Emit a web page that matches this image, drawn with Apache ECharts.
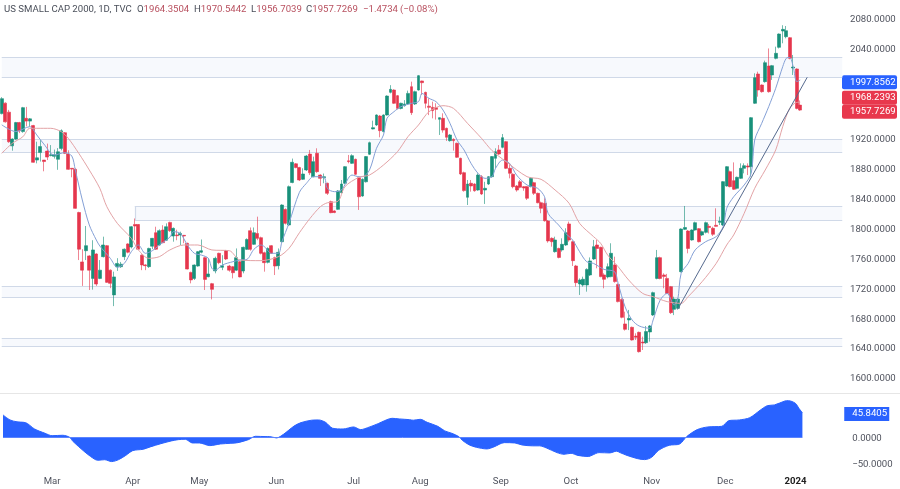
<!DOCTYPE html>
<html><head><meta charset="utf-8">
<style>html,body{margin:0;padding:0;background:#fff}#c{width:900px;height:489px}</style>
<script src="https://cdn.jsdelivr.net/npm/echarts@6/dist/echarts.min.js"></script>
</head><body><div id="c"></div>
<script>
const slotCount = 241;
const monthTicks = {14:'Mar',37:'Apr',56:'May',78:'Jun',100:'Jul',119:'Aug',142:'Sep',162:'Oct',185:'Nov',206:'Dec',226:'2024'};
const priceTicks = [1600,1640,1680,1720,1760,1800,1840,1880,1920,2040,2080];
const oscTicks = [0,-50];
// open, close, low, high
const candles = [
[1953,1973,1952,1975],[1967,1942,1941,1968],[1955,1915.5,1914,1958],[1910,1919,1903.5,1920],[1919,1941,1918,1942],[1941,1930,1927,1942],[1929,1961,1927.5,1962],[1946.7,1943,1936,1962],[1943,1946,1935.5,1947],[1937,1888,1887.5,1938],
[1891,1894,1886.6,1915.5],[1901,1909,1889,1918],[1891,1889,1876,1891],[1903,1895,1891,1913],[1897,1898,1896,1911],[1896,1898,1893,1905],[1892,1902,1878,1907],[1906.6,1930,1904,1932],[1927.5,1900,1899,1928.4],[1899,1878.6,1878,1904],
[1880,1879,1868,1880],[1878.6,1826.5,1826,1880],[1821,1772,1757.5,1822],[1755,1744,1723,1772],[1770,1776.7,1757.5,1803],[1763,1744,1717.5,1764],[1733,1771,1718,1784],[1765.6,1725.5,1723,1766.5],[1733,1744,1732,1757.5],[1762,1777.6,1761,1788.7],
[1776.7,1727.7,1727,1777.6],[1744,1726.4,1720,1745],[1711,1735,1696,1742],[1748.6,1753,1743,1760],[1748.6,1752,1747,1755],[1762,1772,1757.5,1773],[1779,1768,1766.5,1780],[1775,1802,1773,1803],[1805,1803,1784,1813],[1805,1772,1771.7,1805.6],
[1764,1751,1744,1765],[1751,1750,1744,1752],[1748.7,1773,1747,1774],[1776,1786.5,1772,1787],[1794,1772,1771,1802],[1777.6,1796.7,1776.7,1798.5],[1797.6,1780.7,1780,1804],[1784,1802,1783,1806.5],[1807.8,1796.7,1795,1808.7],[1789.6,1799.8,1782,1801],
[1791,1790,1784,1798],[1791,1793,1777.6,1795.4],[1790.5,1789.6,1780,1791],[1779.8,1745.5,1745,1780.7],[1741,1731,1726.4,1742],[1733,1750.9,1730.9,1751.7],[1749.5,1768.7,1748.6,1769.6],[1768,1770,1766.5,1785],[1760.7,1731.7,1717.5,1762],[1735.3,1738.9,1734.4,1760],
[1726,1718.4,1705,1727],[1743,1759.8,1739.8,1762],[1766.5,1754,1752,1767.3],[1747.8,1750,1744,1764],[1770,1758.9,1757.5,1771],[1749.5,1744,1742,1751],[1748.6,1740.6,1733,1749.5],[1744,1760.7,1743,1773],[1755.3,1735,1734.4,1756],[1742.9,1774.5,1739.8,1775.4],
[1771.8,1785,1770.9,1786.5],[1796.7,1771.8,1770,1801],[1778.5,1794,1777.6,1801],[1793,1786.5,1784,1815.4],[1787.4,1766.5,1765,1788.7],[1767.3,1754,1742,1768.7],[1754.4,1773,1753,1774.5],[1776.7,1766.5,1765.6,1777.6],[1760.7,1749.5,1737.5,1762],[1750,1767.8,1745,1773],
[1782,1831,1781,1832],[1825,1806.5,1805,1826.5],[1804.3,1855.5,1803,1857],[1861,1888,1860,1893],[1886,1881,1880,1887],[1881,1864.4,1863,1882],[1865.3,1872.4,1864.4,1880],[1877.8,1896.4,1876.4,1897.8],[1899,1874,1871,1904.5],[1868.8,1888.9,1868,1895.6],
[1900,1875.5,1874,1906.7],[1871,1866.6,1856.4,1872],[1867.5,1868.8,1860,1873],[1860,1846.6,1844.4,1860.8],[1835.5,1820.8,1820,1836.8],[1823,1821,1820,1824],[1825.2,1849.7,1824.4,1851],[1847.5,1859,1846.6,1864.4],[1860,1882.2,1859,1883],[1890,1888.9,1886.6,1897.8],
[1886.6,1896.9,1885.8,1898.7],[1892,1872,1871,1892.9],[1867.5,1842,1824.4,1868.8],[1843,1865.3,1842,1866.6],[1862,1895.6,1861,1896.4],[1898.7,1914.2,1897.8,1915.6],[1932.5,1934.3,1932,1943.6],[1937.8,1951.2,1936.5,1952],[1949.8,1930.3,1921.4,1951.2],[1929,1951.2,1928,1952],
[1951.2,1976.5,1950.3,1977.4],[1981.4,1985.4,1980,1991],[1984.5,1966.8,1965.9,1985.4],[1977,1960,1958.7,1977.9],[1960,1966.8,1958.7,1967.6],[1963.6,1965.9,1962.3,1971],[1965.9,1980,1964.5,1983.7],[1989,1954.3,1951.2,1995.7],[1965.9,1982.3,1964.5,1983.7],[1984.5,2003.7,1983.7,2004.6],
[1996.6,1994.3,1977.9,1997],[1981.4,1966.8,1960,1982.3],[1963,1961.4,1951,1973.4],[1961.4,1957,1946.7,1969],[1961,1958.7,1945,1966.8],[1945.4,1947.6,1924.5,1948],[1946.7,1931,1927.6,1953.4],[1933.4,1921.4,1916.5,1934.3],[1916.9,1924.5,1915.6,1925.8],[1918.7,1916.9,1903.6,1920],
[1913.4,1894.7,1893.8,1914.2],[1893.3,1872.4,1871,1894.2],[1874.2,1850.2,1848.8,1875.5],[1841.3,1859,1831,1864.4],[1860,1856.4,1848.8,1864.4],[1859,1850,1848.8,1860],[1851,1871,1850,1873.3],[1868.8,1845.7,1844.4,1871],[1851,1853.3,1832.4,1862],[1859,1868.8,1857.7,1869.7],
[1868.8,1895.6,1867.5,1896.4],[1893.3,1902.2,1880,1906.7],[1904.5,1899,1897.8,1911],[1908,1920.9,1906.7,1925.8],[1915.6,1880,1879,1916.5],[1880,1873.3,1866.6,1886.6],[1872,1855.5,1853.3,1873.3],[1856.4,1851,1848.8,1857.7],[1862,1854.6,1853.3,1864.4],[1855.5,1853.7,1850,1856.4],
[1855.5,1840,1837.7,1856.4],[1855.5,1866.6,1854.6,1868],[1860.8,1846.6,1844.4,1862],[1846.6,1834,1833.3,1847.5],[1834,1826.6,1820,1835.5],[1833.3,1810,1808.8,1840],[1809.7,1783,1780.7,1811],[1786.5,1782,1775.4,1787.8],[1768.7,1784.3,1767.4,1788.7],[1773,1761,1759.8,1774],
[1771,1778.5,1768.7,1786.5],[1777.6,1794,1776.3,1799.9],[1805.7,1784.3,1782,1808.8],[1782,1756.7,1749.6,1783.4],[1749.6,1727.3,1722,1751],[1725.6,1730.9,1710.9,1733],[1724.2,1731.8,1722,1735.3],[1724.2,1745,1715.3,1746.5],[1737.6,1756.3,1736.2,1761],[1759,1775.4,1757.6,1784.3],
[1777.6,1773,1746.5,1784.3],[1774.5,1735.4,1734.5,1775.4],[1737.6,1731.8,1719.8,1739.8],[1735,1748.7,1733,1753],[1735.4,1766.5,1734.5,1779.9],[1751,1728.7,1727.3,1762],[1725,1702,1701,1726.4],[1705,1681,1679.7,1706.4],[1672.2,1665,1663.3,1688.6],[1677.5,1679.7,1664,1690.9],
[1667.7,1650.8,1650,1668.6],[1656,1654.4,1650.8,1659.7],[1661,1635.2,1634,1662],[1648,1646.8,1637.4,1655.3],[1647.2,1662,1645.5,1669.5],[1661.5,1669.5,1648.6,1670.8],[1684.2,1714,1682.8,1715.3],[1733,1760.7,1731.8,1771],[1760.7,1733,1731.8,1762],[1737.6,1735.4,1719.8,1739.8],
[1733,1713,1712,1739],[1722,1687.3,1685.5,1722.9],[1691.7,1705.5,1684,1708.6],[1693,1705.5,1691.7,1706.4],[1742,1799,1741,1799.9],[1798.5,1801,1797.6,1829.7],[1796.3,1773,1766.5,1797.6],[1784.3,1797.6,1783.4,1798.5],[1797.6,1807.4,1796.7,1808.8],[1799.4,1782,1781,1800.3],
[1791,1795.4,1789.6,1796.8],[1794.5,1807.4,1793,1808.8],[1802.5,1801,1793,1805.7],[1799.9,1791.9,1789.6,1802],[1803.9,1802.5,1802,1826.6],[1807.9,1809.2,1804.3,1815.4],[1804.3,1862.2,1803,1863],[1856.4,1882.2,1855.5,1883],[1875.5,1855.5,1854.6,1876.9],[1863.5,1852,1851,1887.9],
[1853.3,1868,1852,1868.9],[1866.6,1880,1865.7,1886.6],[1880,1883.5,1873.3,1886.6],[1883.1,1881.7,1871,1886.6],[1882.2,1947.6,1868.9,1948.5],[1966.8,2001,1965.9,2006.8],[2005.9,1984.5,1975.6,2009],[1991.2,1982.3,1981,1992],[1995.7,2021,1994.3,2023.7],[2016.6,1982.3,1981,2040],
[2004.6,2017,1998,2018],[2026.8,2033.5,2025.5,2042.4],[2041.5,2059.3,2040,2060],[2063.3,2065.5,2046.9,2071],[2055.7,2063.7,2053.5,2070],[2054.4,2026.8,2025.5,2055.3],[2013.9,2015.2,2004.6,2031.3],[2012.6,1960,1958.7,2013.5],[1964.3504,1957.7269,1956.7039,1970.5442]
];
// [bar index, value]
const fastMA = [[0,1938],[4,1929],[8,1935.6],[10,1924.5],[12,1912.5],[15,1897.8],[18,1900.9],[20,1896.4],[21,1877.7],[23,1837.7],[25,1804.3],[27,1784.3],[28,1776.3],[31,1759.8],[33,1747.8],[35,1753],[37,1768.7],[39,1777.6],[41,1766.5],[43,1770],[45,1777.6],[48,1788],[49,1795.4],[51,1793],[53,1777.6],[55,1766.5],[57,1764.2],[59,1759.8],[60,1746.4],[61,1744],[63,1750.9],[66,1755.3],[68,1757.5],[70,1758.4],[72,1771.8],[74,1777.6],[75,1775.4],[77,1766.5],[79,1766.5],[80,1782],[82,1806.5],[85,1848],[87,1860],[89,1868.8],[92,1868],[93,1853],[95,1848.8],[97,1851],[100,1871],[102,1868.8],[103,1868.8],[105,1877.7],[107,1906.7],[109,1924.5],[110,1946.7],[112,1955.6],[114,1962.3],[117,1966.8],[119,1969],[120,1980],[122,1973.4],[124,1969],[126,1957.8],[128,1940],[130,1917.8],[132,1904.5],[134,1886.6],[136,1873.3],[138,1866.6],[140,1868.8],[141,1880],[143,1891],[145,1886.6],[147,1871],[150,1857.7],[153,1853.3],[155,1842],[156,1819.9],[159,1804.3],[161,1793.2],[163,1784.3],[165,1768.7],[167,1755.4],[169,1753],[172,1745],[175,1742],[176,1726.4],[178,1695],[180,1677.5],[182,1669.5],[185,1666.4],[186,1677.5],[188,1704],[190,1713],[192,1697.5],[193,1704],[194,1739.8],[196,1753],[198,1771],[201,1782],[204,1788.8],[206,1802],[207,1826.6],[209,1842],[212,1857.7],[214,1873.3],[215,1917.8],[217,1940],[219,1962.3],[221,1986.8],[223,2015.7],[224,2026.8],[225,2028],[226,2015.7],[227,1995.7],[228,1997.8562]];
const slowMA = [[0,1900],[3,1913.3],[6,1922],[8,1933.4],[10,1933.4],[14,1933.4],[17,1928.9],[19,1920],[22,1900],[25,1877.7],[28,1853.3],[30,1828.8],[33,1806.5],[37,1786.5],[39,1771],[42,1759.8],[45,1762],[48,1771],[52,1777.6],[56,1777.6],[60,1771],[65,1770],[68,1757.6],[74,1756.7],[79,1762],[82,1773],[85,1794],[88,1813],[91,1828.8],[93,1834],[96,1836],[98,1855.5],[102,1868],[105,1871],[109,1884.4],[113,1902.2],[116,1922.3],[119,1937.8],[122,1955.6],[126,1963.6],[129,1960],[133,1940],[137,1920],[140,1903.6],[144,1888.9],[150,1868.8],[154,1865.3],[158,1851],[162,1833.3],[165,1806.5],[169,1788.7],[171,1779.9],[173,1764.3],[176,1748.7],[179,1730.9],[183,1713],[186,1708.6],[190,1702],[194,1699.7],[196,1708.6],[200,1728.7],[204,1753],[207,1777.6],[209,1791],[212,1819.9],[215,1853.3],[218,1877.7],[221,1904.5],[223,1935.6],[225,1960],[227,1968],[228,1968.2393]];
const oscillator = [[0,42],[2,32.5],[4,29],[6,28],[7,25.6],[9,15.6],[12,7.5],[14,3],[17,3.8],[19,0],[20,-8],[23,-25.6],[25,-36],[27,-43],[29,-42],[31,-45.5],[33,-41.8],[35,-34],[37,-25],[40,-22.4],[42,-18],[45,-12],[48,-6.8],[50,-4.4],[52,-3.7],[54,-10.6],[56,-10.6],[59,-15.6],[62,-12.5],[65,-11.2],[67,-10],[70,-4.4],[72,1.9],[75,1.3],[76,1.3],[78,-1.2],[80,5.6],[83,21],[85,27.5],[88,32],[90,32.5],[92,28],[94,17],[97,15.6],[100,19.4],[102,14.4],[104,18],[107,25.6],[108,28.7],[111,35.6],[113,34.4],[116,33],[117,32],[119,33.7],[121,28],[124,20.6],[126,12],[128,7.5],[130,1.3],[131,-5.6],[133,-14.3],[135,-18.7],[138,-21.8],[140,-18],[143,-10],[146,-10.6],[148,-14.3],[151,-16],[153,-16],[155,-20],[158,-28.7],[160,-31.8],[162,-30],[164,-34],[167,-36],[168,-33.6],[170,-28.7],[173,-29.3],[175,-26],[176,-28.7],[178,-34],[181,-40],[183,-41.8],[185,-37.4],[187,-24.3],[190,-15],[193,-12.5],[195,1.3],[198,14.4],[201,19.4],[205,20.6],[207,31.2],[210,32.5],[213,36.8],[216,51],[218,59.3],[220,60.6],[223,68],[224,68.6],[226,63.7],[227,54.3],[228,45.8405]];
// upper price, lower price, first bar
const zoneEdges = [[2028.6,2001.5,0],[1918.7,1901.3,0],[1829.7,1810.6,38],[1722.9,1708.2,0],[1653,1641.9,0]];
const trendStart = [193,1691.7], trendEnd = [230,2001.5];
const zoneEndBar = 240;
// tag slot on the price scale -> shown text, colour class
const priceTags = [[1995,'1997.8562','blue'],[1974.3,'1968.2393','red'],[1955.6,'1957.7269','red']];
const oscTagSlot = 43.6, oscTagText = '45.8405';

const FONT = 'Roboto';
const FS = 9.6;
const TXT = '#50535e';
const categories = Array.from({length:slotCount},(_,i)=>monthTicks[i]||'');
const zoneAreas = zoneEdges.map(z=>[{coord:[z[2],z[0]]},{coord:[zoneEndBar,z[1]]}]);
const zoneLines = [];
zoneEdges.forEach(z=>{
  zoneLines.push([{coord:[z[2],z[0]]},{coord:[zoneEndBar,z[0]]}]);
  zoneLines.push([{coord:[z[2],z[1]]},{coord:[zoneEndBar,z[1]]}]);
  if(z[2]>0) zoneLines.push([{coord:[z[2],z[0]]},{coord:[z[2],z[1]]}]);
});
const tagBox = c=>({backgroundColor:c,color:'#fff',width:47,height:14,lineHeight:14,padding:[0,0,0,8],borderRadius:2,fontSize:FS,fontFamily:FONT});
const headerParts = [
 {left:4,text:'{d|US SMALL CAP 2000, 1D, TVC}'},
 {left:137,text:'{d|O}{v|1964.3504}'},
 {left:194,text:'{d|H}{v|1970.5442}'},
 {left:251,text:'{d|L}{v|1956.7039}'},
 {left:306,text:'{d|C}{v|1957.7269}'},
 {left:363,text:'{v|−1.4734}'},
 {left:400,text:'{v|(−0.08%)}'}
];
const chart = echarts.init(document.getElementById('c'),null,{renderer:'canvas'});
chart.setOption({
 animation:false,
 backgroundColor:'#ffffff',
 textStyle:{fontFamily:FONT},
 title:headerParts.map(h=>({left:h.left,top:5,text:h.text,padding:0,textStyle:{fontWeight:'normal',rich:{
   d:{color:'#4a4f5a',fontSize:FS,fontWeight:'normal',fontFamily:FONT},
   v:{color:'#b8505f',fontSize:FS,fontWeight:'normal',fontFamily:FONT}}}})),
 grid:[
  {left:-2.56,right:53.76,top:0,height:393,containLabel:false},
  {left:-2.56,right:53.76,top:393,height:80,containLabel:false}
 ],
 xAxis:[
  {type:'category',gridIndex:0,data:categories,show:false},
  {type:'category',gridIndex:1,data:categories,axisLine:{show:false},axisTick:{show:false},splitLine:{show:false},
   axisLabel:{interval:0,margin:4,hideOverlap:false,color:TXT,fontSize:FS,fontFamily:FONT,
     formatter:v=>v==='2024'?'{b|2024}':v,
     rich:{b:{fontWeight:'bold',color:'#222',fontSize:FS,fontFamily:FONT}}}}
 ],
 yAxis:[
  {type:'value',gridIndex:0,position:'right',min:1580,max:2104.7,splitLine:{show:false},axisLine:{show:false},axisTick:{show:false},
   axisLabel:{customValues:priceTags.map(t=>t[0]).concat(priceTicks),align:'left',margin:-2,hideOverlap:false,showMinLabel:true,showMaxLabel:true,color:TXT,
     formatter:v=>{const t=priceTags.find(p=>p[0]===v);
       return t?`{${t[2]}|${t[1]}}`:`{n|${v.toFixed(4)}}`;},
     rich:{n:{padding:[2,0,0,8],color:TXT,fontSize:FS,fontFamily:FONT},blue:tagBox('#2962ff'),red:tagBox('#e8384d')}}},
  {type:'value',gridIndex:1,position:'right',min:-66.9,max:83,splitLine:{show:false},axisLine:{show:false},axisTick:{show:false},
   axisLabel:{customValues:oscTicks.concat([oscTagSlot]),align:'left',margin:-2,hideOverlap:false,showMinLabel:true,showMaxLabel:true,color:TXT,
     formatter:v=>v===oscTagSlot?`{b|${oscTagText}}`:`{n|${v<0?'−':''}${Math.abs(v).toFixed(4)}}`,
     rich:{n:{padding:[2,0,0,8],color:TXT,fontSize:FS,fontFamily:FONT},
       b:{backgroundColor:'#2962ff',color:'#fff',width:37,height:14,lineHeight:14,padding:[0,0,0,8],fontSize:FS,fontFamily:FONT}}}}
 ],
 series:[
  {name:'price',type:'candlestick',xAxisIndex:0,yAxisIndex:0,data:candles,barWidth:3.4,
   itemStyle:{color:'#18907a',color0:'#e5364c',borderColor:'rgba(24,144,122,0.6)',borderColor0:'rgba(229,54,76,0.6)',borderWidth:1},
   markArea:{silent:true,z:1,itemStyle:{color:'#f7f9fd'},data:zoneAreas},
   markLine:{silent:true,z:1,symbol:'none',animation:false,label:{show:false},lineStyle:{color:'#d0d9e8',width:1.2,type:'solid'},data:zoneLines}},
  {name:'fast',type:'line',xAxisIndex:0,yAxisIndex:0,data:fastMA,smooth:0.3,showSymbol:false,z:4,lineStyle:{color:'#84a0d6',width:1}},
  {name:'slow',type:'line',xAxisIndex:0,yAxisIndex:0,data:slowMA,smooth:0.3,showSymbol:false,z:4,lineStyle:{color:'#e3a3a6',width:1},
   markLine:{silent:true,symbol:'none',label:{show:false},lineStyle:{color:'#566a8e',width:1,type:'solid'},
     data:[[{coord:trendStart},{coord:trendEnd}]]}},
  {name:'osc',type:'line',xAxisIndex:1,yAxisIndex:1,data:oscillator,smooth:0.3,showSymbol:false,
   lineStyle:{color:'#2962ff',width:1},areaStyle:{color:'#2962ff',opacity:1,origin:0},
   markLine:{silent:true,symbol:'none',label:{show:false},lineStyle:{color:'#5a83ff',width:1,type:'solid'},
     data:[[{coord:[0,0]},{coord:[228,0]}]]}}
 ],
 graphic:[{type:'line',silent:true,shape:{x1:0,y1:393.5,x2:900,y2:393.5},style:{stroke:'#e6e6e6',lineWidth:1}}]
});
</script></body></html>
